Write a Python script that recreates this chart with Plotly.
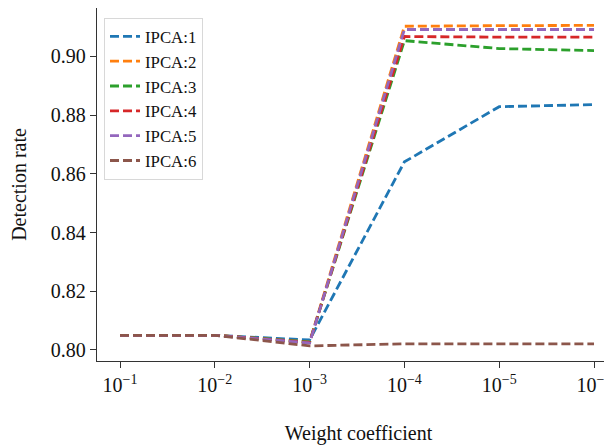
import plotly.graph_objects as go

x_pos = [0, 1, 2, 3, 4, 5]
tick_labels = ["10<sup>−1</sup>", "10<sup>−2</sup>", "10<sup>−3</sup>",
               "10<sup>−4</sup>", "10<sup>−5</sup>", "10<sup>−6</sup>"]

ipca1 = [0.805, 0.805, 0.8034, 0.8641, 0.8829, 0.8836]
ipca2 = [0.805, 0.805, 0.8027, 0.9103, 0.9105, 0.9106]
ipca3 = [0.805, 0.805, 0.8027, 0.9054, 0.9027, 0.9020]
ipca4 = [0.805, 0.805, 0.8026, 0.9068, 0.9066, 0.9066]
ipca5 = [0.805, 0.805, 0.8024, 0.9092, 0.9092, 0.9092]
ipca6 = [0.805, 0.805, 0.8014, 0.8021, 0.8021, 0.8021]

series = [("IPCA:1", ipca1, "#1f77b4"), ("IPCA:2", ipca2, "#ff7f0e"),
          ("IPCA:3", ipca3, "#2ca02c"), ("IPCA:4", ipca4, "#d62728"),
          ("IPCA:5", ipca5, "#9467bd"), ("IPCA:6", ipca6, "#8c564b")]

FONT = "Liberation Serif, Times New Roman, serif"
fig = go.Figure()
for name, vals, col in series:
    fig.add_trace(go.Scatter(x=x_pos, y=vals, mode="lines", name=name,
                             line=dict(color=col, width=2.8, dash="9px,4px")))

fig.update_layout(
    width=612, height=445,
    margin=dict(l=89, r=0, t=0, b=92),
    paper_bgcolor="white", plot_bgcolor="white",
    font=dict(family=FONT, size=20, color="#111"),
    legend=dict(x=0.0134, y=0.972, xanchor="left", yanchor="top",
                bgcolor="white", bordercolor="#d8d8d8", borderwidth=1,
                font=dict(family=FONT, size=16.8, color="#111"),
                tracegroupgap=0, itemwidth=30),
    showlegend=True,
)
fig.update_xaxes(range=[-0.2426, 5.274], tickvals=x_pos, ticktext=tick_labels,
                 showgrid=False, zeroline=False, showline=True, linecolor="#333",
                 linewidth=1.4, mirror=True, ticks="outside", ticklen=6,
                 tickcolor="#333", tickfont=dict(family=FONT, size=20),
                 title=dict(text="Weight coefficient", font=dict(family=FONT, size=20),
                            standoff=30))
fig.update_yaxes(range=[0.79625, 0.91652], tickvals=[0.80, 0.82, 0.84, 0.86, 0.88, 0.90],
                 ticktext=["0.80", "0.82", "0.84", "0.86", "0.88", "0.90"],
                 showgrid=False, zeroline=False, showline=True, linecolor="#333",
                 linewidth=1.4, mirror=False, ticks="outside", ticklen=6,
                 tickcolor="#333", tickfont=dict(family=FONT, size=20),
                 title=dict(text="Detection rate", font=dict(family=FONT, size=20),
                            standoff=18))

fig.write_html("out.html")
